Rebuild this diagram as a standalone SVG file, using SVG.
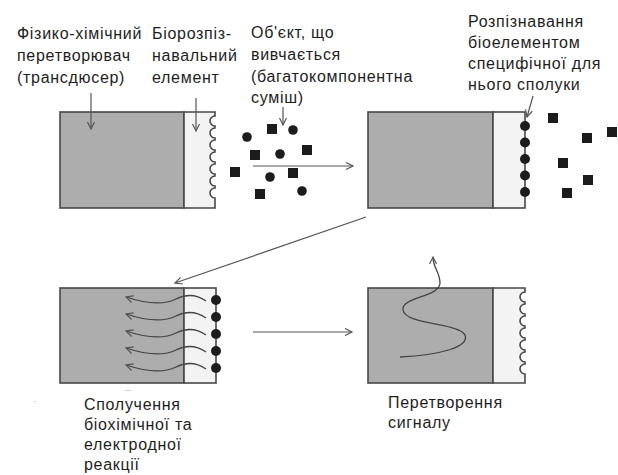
<svg xmlns="http://www.w3.org/2000/svg" width="618" height="475" viewBox="0 0 618 475">
<style>
text{font-family:"Liberation Sans",Arial,sans-serif;font-size:16px;fill:#1e1e1e;letter-spacing:0.7px}
.dark{fill:#adadad;stroke:#484848;stroke-width:1.6}
.light{fill:#f3f3f3;stroke:#484848;stroke-width:1.6}
.dot{fill:#1c1c1c}
.sq{fill:#1c1c1c}
.con{fill:none;stroke:#555;stroke-width:1.2}
.wave{fill:none;stroke:#444;stroke-width:1.3}
</style>
<defs>
<marker id="ah" markerWidth="10" markerHeight="10" refX="8" refY="4" orient="auto" markerUnits="userSpaceOnUse">
<path d="M1,0.5 L8,4 L1,7.5" fill="none" stroke="#555" stroke-width="1.2"/>
</marker>
<symbol id="s" overflow="visible"><rect x="-5" y="-5" width="10" height="10" class="sq"/></symbol>
</defs>
<!-- labels -->
<g id="label-transducer">
<text x="17" y="39">Фізико-хімічний</text>
<text x="17" y="61">перетворювач</text>
<text x="17" y="83">(трансдюсер)</text>
</g>
<g id="label-bio">
<text x="152" y="39">Біорозпіз-</text>
<text x="152" y="61">навальний</text>
<text x="152" y="83">елемент</text>
</g>
<g id="label-object">
<text x="251" y="38">Об'єкт, що</text>
<text x="251" y="60">вивчається</text>
<text x="251" y="82">(багатокомпонентна</text>
<text x="251" y="103">суміш)</text>
</g>
<g id="label-recognition">
<text x="468" y="27">Розпізнавання</text>
<text x="468" y="48">біоелементом</text>
<text x="468" y="69">специфічної для</text>
<text x="468" y="90">нього сполуки</text>
</g>
<g id="label-coupling">
<text x="84" y="410">Сполучення</text>
<text x="84" y="430">біохімічної та</text>
<text x="84" y="450">електродної</text>
<text x="84" y="470">реакції</text>
</g>
<g id="label-signal">
<text x="388" y="408">Перетворення</text>
<text x="388" y="428">сигналу</text>
</g>
<!-- box 1 -->
<g id="box1">
<rect class="dark" x="60" y="112" width="124" height="96"/>
<path class="light" d="M184,112 H215 V116 a5,5 0 0 0 0,10 v2 a5,5 0 0 0 0,10 v2 a5,5 0 0 0 0,10 v2 a5,5 0 0 0 0,10 v2 a5,5 0 0 0 0,10 v2 a5,5 0 0 0 0,10 v2 a5,5 0 0 0 0,10 V208 H184 Z"/>
</g>
<!-- mixture -->
<g id="mixture">
<circle class="dot" cx="247" cy="137" r="4.8"/>
<circle class="dot" cx="293" cy="130" r="4.8"/>
<circle class="dot" cx="280" cy="154" r="4.8"/>
<circle class="dot" cx="270" cy="177" r="4.8"/>
<circle class="dot" cx="302" cy="191" r="4.8"/>
<use href="#s" x="272" y="129"/>
<use href="#s" x="307" y="150"/>
<use href="#s" x="255" y="155"/>
<use href="#s" x="235" y="172"/>
<use href="#s" x="293" y="173"/>
<use href="#s" x="260" y="194"/>
</g>
<!-- box 2 -->
<g id="box2">
<rect class="dark" x="368" y="112" width="125" height="96"/>
<rect class="light" x="493" y="112" width="32" height="96"/>
<circle class="dot" cx="525" cy="126" r="5"/>
<circle class="dot" cx="525" cy="142.5" r="5"/>
<circle class="dot" cx="525" cy="159" r="5"/>
<circle class="dot" cx="525" cy="175.5" r="5"/>
<circle class="dot" cx="525" cy="192" r="5"/>
</g>
<g id="free-molecules">
<use href="#s" x="553" y="118"/>
<use href="#s" x="587" y="138"/>
<use href="#s" x="612" y="132"/>
<use href="#s" x="563" y="163"/>
<use href="#s" x="588" y="180"/>
<use href="#s" x="567" y="193"/>
</g>
<!-- box 3 -->
<g id="box3">
<rect class="dark" x="60" y="288" width="124" height="95"/>
<rect class="light" x="184" y="288" width="32" height="95"/>
<g class="wave">
<path d="M206,301 C196,294 186,294 176,299 C166,304 150,305 126,297" marker-end="url(#ah)"/>
<path d="M206,318 C196,311 186,311 176,316 C166,321 150,322 126,314" marker-end="url(#ah)"/>
<path d="M206,335 C196,328 186,328 176,333 C166,338 150,339 126,331" marker-end="url(#ah)"/>
<path d="M206,352 C196,345 186,345 176,350 C166,355 150,356 126,348" marker-end="url(#ah)"/>
<path d="M206,369 C196,362 186,362 176,367 C166,372 150,373 126,365" marker-end="url(#ah)"/>
</g>
<circle class="dot" cx="216" cy="300" r="5"/>
<circle class="dot" cx="216" cy="317" r="5"/>
<circle class="dot" cx="216" cy="334" r="5"/>
<circle class="dot" cx="216" cy="351" r="5"/>
<circle class="dot" cx="216" cy="368" r="5"/>
</g>
<!-- box 4 -->
<g id="box4">
<rect class="dark" x="368" y="288" width="125" height="95"/>
<path class="light" d="M493,288 H525 V292 a5,5 0 0 0 0,10 v2 a5,5 0 0 0 0,10 v2 a5,5 0 0 0 0,10 v2 a5,5 0 0 0 0,10 v2 a5,5 0 0 0 0,10 v2 a5,5 0 0 0 0,10 v2 a5,5 0 0 0 0,10 V383 H493 Z"/>
<path class="wave" d="M400,357 C440,355 470,347 465,335 C460,323 405,325 403,310 C401,297 440,297 440,283 C440,272 433,268 433,257" marker-end="url(#ah)"/>
</g>
<!-- connectors -->
<g id="connectors" class="con">
<line x1="253" y1="166" x2="353" y2="166" marker-end="url(#ah)"/>
<line x1="366" y1="217" x2="175" y2="283" marker-end="url(#ah)"/>
<line x1="253" y1="332" x2="352" y2="332" marker-end="url(#ah)"/>
<line x1="91" y1="93" x2="91" y2="129" marker-end="url(#ah)"/>
<line x1="196" y1="98" x2="196" y2="131" marker-end="url(#ah)"/>
<line x1="283" y1="107" x2="283" y2="125" marker-end="url(#ah)"/>
<line x1="533" y1="96" x2="527" y2="117" marker-end="url(#ah)"/>
</g>
<g id="specks" stroke="#d0d0d0" stroke-width="1">
<line x1="125" y1="390.5" x2="131" y2="390.5"/>
<line x1="34" y1="401.5" x2="36" y2="401.5"/>
</g>
</svg>
